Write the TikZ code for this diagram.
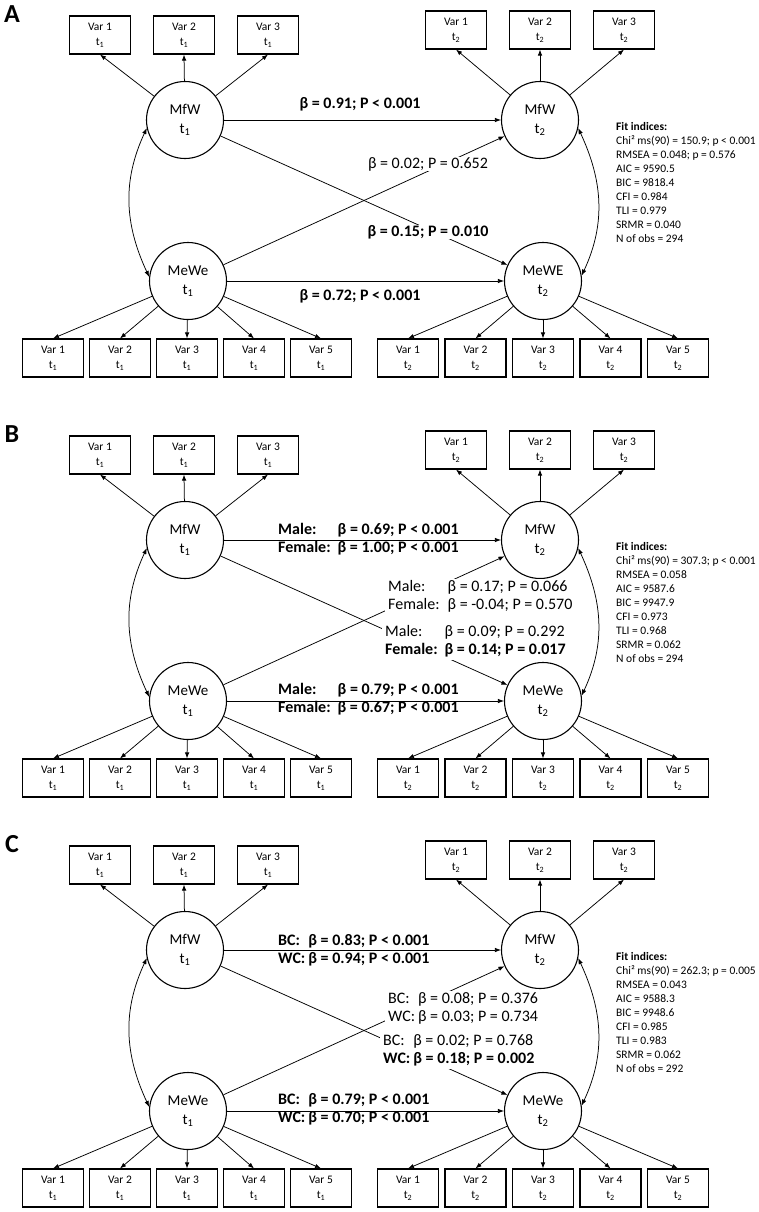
\documentclass[tikz,border=0pt]{standalone}
\usepackage{fontspec}
\setmainfont{Carlito}
\usetikzlibrary{arrows.meta}

\begin{document}
\begin{tikzpicture}[x=1pt, y=1pt]
  \tikzset{
    latent/.style={circle, draw, line width=1.1pt, minimum size=77pt, inner sep=0pt, align=center, font=\fontsize{15}{19}\selectfont},
    manifest/.style={draw, line width=1.1pt, minimum width=61pt, minimum height=38pt, inner sep=0pt, align=center, font=\fontsize{11.5}{15}\selectfont},
    regress/.style={line width=0.75pt, -{Latex[length=6pt,width=4.5pt]}},
    cov/.style={line width=0.75pt, {Latex[length=6pt,width=4.5pt]}-{Latex[length=6pt,width=4.5pt]}},
    coef/.style={font=\fontsize{16}{18}\selectfont, inner sep=1pt},
    coef on line/.style={coef, fill=white, inner xsep=3pt, inner ysep=0pt},
    fit text/.style={font=\fontsize{11.5}{14}\selectfont, align=left, anchor=north west, inner sep=0pt},
    panel letter/.style={font=\fontsize{26}{26}\selectfont\bfseries},
    sem panel/.pic={
      \tikzset{/sem/.cd, #1}
      \node [panel letter] (-letter) at (12,-14) {\semletter};
      % latent variables
      \node [latent] (-m1) at (185,-120) {MfW\\t\textsubscript{1}};
      \node [latent] (-e1) at (188,-281) {MeWe\\t\textsubscript{1}};
      \node [latent] (-m2) at (540,-120) {MfW\\t\textsubscript{2}};
      \node [latent] (-e2) at (543,-281) {\semoutcome\\t\textsubscript{2}};
      % indicators
      \foreach \i in {1,2,3} {
        \node [manifest] (-a\i) at (16+84*\i,-35) {Var \i\\t\textsubscript{1}};
        \node [manifest] (-b\i) at (372+84*\i,-30) {Var \i\\t\textsubscript{2}};
        \draw [regress] (-m1) -- (-a\i.south);
        \draw [regress] (-m2) -- (-b\i.south);
      }
      \foreach \i in {1,...,5} {
        \node [manifest] (-c\i) at (-14+67*\i,-358) {Var \i\\t\textsubscript{1}};
        \node [manifest] (-d\i) at (340.5+67.5*\i,-358) {Var \i\\t\textsubscript{2}};
        \draw [regress] (-e1) -- (-c\i.north);
        \draw [regress] (-e2) -- (-d\i.north);
      }
      % structural paths
      \draw [regress] (-m1) -- (-m2);
      \draw [regress] (-m1) -- (-e2);
      \draw [regress] (-e1) -- (-m2);
      \draw [regress] (-e1) -- (-e2);
      \draw [cov] (-m1.192) to [out=245,in=115] (-e1.174);
      \draw [cov] (-m2.348) to [out=-65,in=65] (-e2.8);
    },
    /sem/.search also={/tikz},
    /sem/.cd,
    letter/.store in=\semletter,
    outcome/.store in=\semoutcome,
    letter=A,
    outcome=MeWe
  }

  \useasboundingbox (0,0) rectangle (758,-1212);

  \pic (A) at (0,0) {sem panel={letter=A, outcome=MeWE}};

  \node [coef] (A-l1) at (360,-104) {\textbf{β = 0.91; P < 0.001}};
  \node [coef on line] (A-l2) at (428,-164) {β = 0.02; P = 0.652};
  \node [coef on line] (A-l3) at (428,-232) {\textbf{β = 0.15; P = 0.010}};
  \node [coef] (A-l4) at (360,-296) {\textbf{β = 0.72; P < 0.001}};
  \node [fit text] (A-fit) at (616,-122) {\textbf{Fit indices:}\\Chi² ms(90) = 150.9; p < 0.001\\RMSEA = 0.048; p = 0.576\\AIC = 9590.5\\BIC = 9818.4\\CFI = 0.984\\TLI = 0.979\\SRMR = 0.040\\N of obs = 294};

  \pic (B) at (0,-420) {sem panel={letter=B}};

  \node [coef, anchor=west] (B-l1) at (277,-540) {\bfseries\begin{tabular}{@{}l@{\hspace{7pt}}l@{}}Male: & β = 0.69; P < 0.001\\ Female: & β = 1.00; P < 0.001\end{tabular}};
  \node [coef on line, anchor=west] (B-l2) at (385,-597) {\begin{tabular}{@{}l@{\hspace{8pt}}l@{}}Male: & β = 0.17; P = 0.066\\ Female: & β = -0.04; P = 0.570\end{tabular}};
  \node [coef on line, anchor=west] (B-l3) at (382,-642) {\begin{tabular}{@{}l@{\hspace{7pt}}l@{}}Male: & β = 0.09; P = 0.292\\ \textbf{Female:} & \textbf{β = 0.14; P = 0.017}\end{tabular}};
  \node [coef, anchor=west] (B-l4) at (277,-700) {\bfseries\begin{tabular}{@{}l@{\hspace{7pt}}l@{}}Male: & β = 0.79; P < 0.001\\ Female: & β = 0.67; P < 0.001\end{tabular}};
  \node [fit text] (B-fit) at (616,-542) {\textbf{Fit indices:}\\Chi² ms(90) = 307.3; p < 0.001\\RMSEA = 0.058\\AIC = 9587.6\\BIC = 9947.9\\CFI = 0.973\\TLI = 0.968\\SRMR = 0.062\\N of obs = 294};

  \pic (C) at (0,-830) {sem panel={letter=C}};

  \node [coef, anchor=west] (C-l1) at (277,-951) {\bfseries\begin{tabular}{@{}l@{\hspace{3pt}}l@{}}BC: & β = 0.83; P < 0.001\\ WC: & β = 0.94; P < 0.001\end{tabular}};
  \node [coef on line, anchor=west] (C-l2) at (385,-1009) {\begin{tabular}{@{}l@{\hspace{3pt}}l@{}}BC: & β = 0.08; P = 0.376\\ WC: & β = 0.03; P = 0.734\end{tabular}};
  \node [coef on line, anchor=west] (C-l3) at (380,-1051) {\begin{tabular}{@{}l@{\hspace{3pt}}l@{}}BC: & β = 0.02; P = 0.768\\ \textbf{WC:} & \textbf{β = 0.18; P = 0.002}\end{tabular}};
  \node [coef, anchor=west] (C-l4) at (277,-1110) {\bfseries\begin{tabular}{@{}l@{\hspace{3pt}}l@{}}BC: & β = 0.79; P < 0.001\\ WC: & β = 0.70; P < 0.001\end{tabular}};
  \node [fit text] (C-fit) at (616,-952) {\textbf{Fit indices:}\\Chi² ms(90) = 262.3; p = 0.005\\RMSEA = 0.043\\AIC = 9588.3\\BIC = 9948.6\\CFI = 0.985\\TLI = 0.983\\SRMR = 0.062\\N of obs = 292};
\end{tikzpicture}
\end{document}
